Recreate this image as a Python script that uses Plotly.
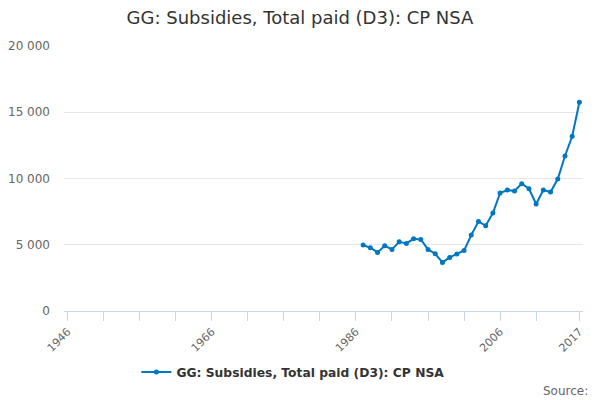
import plotly.graph_objects as go

# Values (GBP million, current prices)
years = list(range(1987, 2018))
subsidies = [4975, 4775, 4420, 4920, 4650, 5225, 5100, 5450, 5400, 4650,
             4320, 3665, 4040, 4295, 4570, 5730, 6760, 6435, 7390, 8905,
             9130, 9055, 9610, 9230, 8075, 9130, 8980, 9960, 11700, 13190,
             15755]

tick_years = list(range(1946, 2012, 5)) + [2017]
tick_labels = [str(y) if y in (1946, 1966, 1986, 2006, 2017) else "" for y in tick_years]

series_name = "GG: Subsidies, Total paid (D3): CP NSA"

fig = go.Figure()
fig.add_trace(go.Scatter(
    x=years, y=subsidies, name=series_name, mode="lines+markers",
    line=dict(color="#0077c0", width=2),
    marker=dict(color="#0077c0", size=5),
))

fig.update_layout(
    width=600, height=400,
    margin=dict(l=64, r=17, t=46, b=89),
    paper_bgcolor="white", plot_bgcolor="white",
    font=dict(family="DejaVu Sans", color="#666666", size=11),
    separators=". ",
    title=dict(text=series_name, x=0.5, xanchor="center", y=0.955, yanchor="middle",
               font=dict(size=18, color="#333333")),
    showlegend=True,
    legend=dict(orientation="h", x=0.441, xanchor="center", y=-0.23, yanchor="middle",
                font=dict(size=12.3, color="#333333", weight="bold"),
                itemwidth=30),
    annotations=[dict(text="Source:", xref="paper", yref="paper", x=1.013, y=-0.3,
                      xanchor="right", yanchor="middle", showarrow=False,
                      font=dict(size=12, color="#666666"))],
)

fig.update_xaxes(
    range=[1945.5, 2017.5], tickvals=tick_years, ticktext=tick_labels,
    tickangle=-45, ticks="outside", ticklen=9, tickcolor="#ccd6eb",
    showline=True, linecolor="#ccd6eb", linewidth=1, showgrid=False, zeroline=False,
    automargin=False,
)
fig.update_yaxes(
    range=[0, 20000], dtick=5000, tickformat=",", showgrid=True,
    gridcolor="#e6e6e6", zeroline=False, showline=False, ticks="",
    ticklabelstandoff=13, tickfont=dict(size=12), automargin=False,
)

fig.write_html("out.html", config={"displayModeBar": False},
               post_script="document.body.style.margin='0';")
